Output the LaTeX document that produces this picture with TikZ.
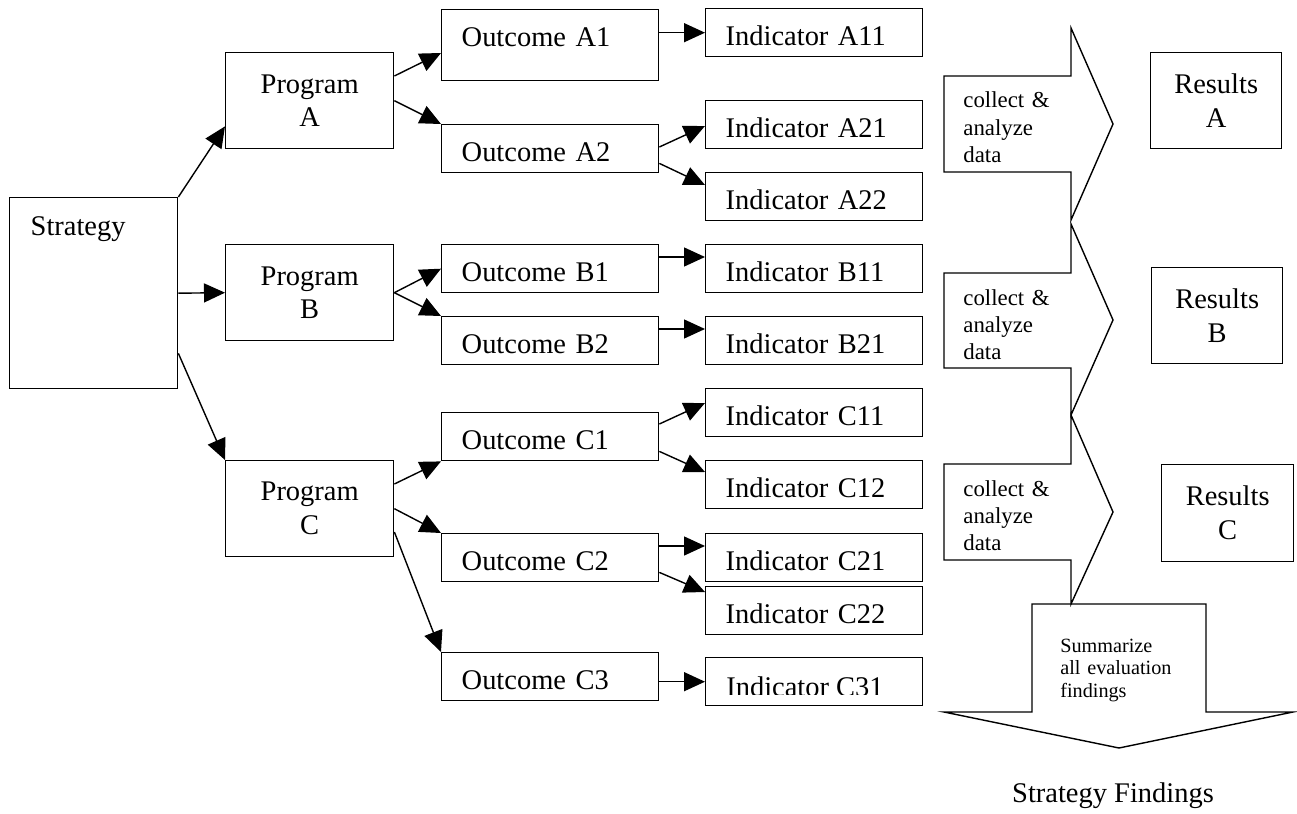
\documentclass[tikz,border=0pt]{standalone}
\usepackage{fontspec}
\setmainfont{Liberation Serif}
\usepackage{tikz}
\usetikzlibrary{arrows.meta, positioning, calc}
\newcommand{\boxfont}{\fontsize{16.2}{19.3}\selectfont}
\newcommand{\chevfont}{\fontsize{13}{15.6}\selectfont}
\newcommand{\sumfont}{\fontsize{11.5}{13}\selectfont}
\tikzstyle{outbox} = [draw, line width=0.8pt, anchor=north west, text width=3.54cm, align=left, inner xsep=0.4cm, inner ysep=0pt, text height=0.74cm, text depth=0.22cm, font=\boxfont]
\tikzstyle{progbox} = [draw, line width=0.8pt, anchor=north west, minimum width=3.36cm, minimum height=1.92cm, align=center, inner sep=0pt, font=\boxfont]
\tikzstyle{chev} = [line width=0.8pt, line join=miter]
\tikzstyle{chevtext} = [anchor=base west, text width=3cm, align=left, inner sep=0pt, font=\chevfont]
\tikzstyle{arrow} = [line width=0.8pt, -{Triangle[length=0.42cm, width=0.38cm]}]

\begin{document}
\begin{tikzpicture}[x=0.02cm, y=-0.02cm]
          \useasboundingbox (0,0) rectangle (1297,814);

          % strategy and programs
          \node[progbox, minimum height=3.82cm, text width=2.52cm, align=left, inner xsep=0.42cm, text height=0.76cm, text depth=3.06cm] (strategy) at (9,197) {Strategy};
          \node[progbox] (progA) at (225,52) {Program\\A};
          \node[progbox] (progB) at (225,244) {Program\\B};
          \node[progbox] (progC) at (225,460) {Program\\C};

          % outcomes
          \node[outbox, text depth=0.68cm] (oA1) at (441,9) {Outcome A1};
          \node[outbox] (oA2) at (441,124) {Outcome A2};
          \node[outbox] (oB1) at (441,244) {Outcome B1};
          \node[outbox] (oB2) at (441,316) {Outcome B2};
          \node[outbox] (oC1) at (441,412) {Outcome C1};
          \node[outbox] (oC2) at (441,533) {Outcome C2};
          \node[outbox] (oC3) at (441,652) {Outcome C3};

          % indicators
          \node[outbox] (iA11) at (705,8) {Indicator A11};
          \node[outbox] (iA21) at (705,100) {Indicator A21};
          \node[outbox] (iA22) at (705,172) {Indicator A22};
          \node[outbox] (iB11) at (705,244) {Indicator B11};
          \node[outbox] (iB21) at (705,316) {Indicator B21};
          \node[outbox] (iC11) at (705,388) {Indicator C11};
          \node[outbox] (iC12) at (705,460) {Indicator C12};
          \node[outbox] (iC21) at (705,533) {Indicator C21};
          \node[outbox] (iC22) at (705,586) {Indicator C22};
          \node[outbox] (iC31) at (705,657) {};
          \begin{scope}
              \clip (iC31.north west) rectangle ($(iC31.south east)+(0,-12)$);
              \node[anchor=base west, inner sep=0pt, font=\boxfont] (iC31-text) at ($(iC31.south west)+(21,-10)$) {Indicator C31};
          \end{scope}

          % results
          \node[progbox, minimum width=2.62cm] (resA) at (1150,52) {Results\\A};
          \node[progbox, minimum width=2.62cm] (resB) at (1151,267) {Results\\B};
          \node[progbox, minimum width=2.64cm, minimum height=1.94cm] (resC) at (1161,464) {Results\\C};

          % collect & analyze chevrons, summary arrow
          \draw[chev] (944,76) -- (1071,76) -- (1071,28) -- (1113,124) -- (1071,220) -- (1071,172) -- (944,172) -- cycle;
          \draw[chev] (944,273) -- (1071,273) -- (1071,224) -- (1113,320) -- (1071,415) -- (1071,368) -- (944,368) -- cycle;
          \draw[chev] (944,464) -- (1071,464) -- (1071,415) -- (1113,512) -- (1071,604) -- (1071,560) -- (944,560) -- cycle;
          \draw[chev] (1032,604) -- (1206,604) -- (1206,712) -- (1293,712) -- (1119,748) -- (944,712) -- (1032,712) -- cycle;

          \node[chevtext] (collectA) at (963,108) {collect \&\\analyze\\data};
          \begin{scope}
              \clip (944,273) rectangle (1071,360);
              \node[chevtext] (collectB) at (963,305) {collect \&\\analyze\\data};
          \end{scope}
          \node[chevtext] (collectC) at (963,496) {collect \&\\analyze\\data};
          \node[chevtext, font=\sumfont] (summary) at (1060,652) {Summarize\\all evaluation\\findings};
          \node[anchor=base, inner sep=0pt, font=\boxfont] (findings) at (1113,802) {Strategy Findings};

          % strategy -> programs
          \draw[arrow] (strategy.north east) -- ($(progA.south west)+(0,-23)$);
          \draw[arrow] (strategy.east) -- (progB.west);
          \draw[arrow] ($(strategy.south east)+(0,-36)$) -- (progC.north west);

          % programs -> outcomes
          \draw[arrow] ($(progA.north east)+(0,24)$) -- ($(oA1.north west)+(0,44)$);
          \draw[arrow] (progA.east) -- (oA2.north west);
          \draw[arrow] (progB.east) -- (oB1.west);
          \draw[arrow] (progB.east) -- (oB2.north west);
          \draw[arrow] ($(progC.north east)+(0,24)$) -- (oC1.south west);
          \draw[arrow] (progC.east) -- (oC2.north west);
          \draw[arrow] ($(progC.north east)+(0,72)$) -- (oC3.north west);

          % outcomes -> indicators
          \draw[arrow] (iA11.west -| oA1.east) -- (iA11.west);
          \draw[arrow] ($(oA2.north east)+(0,23)$) -- ($(iA21.north west)+(0,26)$);
          \draw[arrow] ($(oA2.south east)+(0,-10)$) -- ($(iA22.north west)+(0,13)$);
          \draw[arrow] ($(oB1.north east)+(0,13)$) -- ($(iB11.north west)+(0,13)$);
          \draw[arrow] ($(oB2.north east)+(0,13)$) -- ($(iB21.north west)+(0,13)$);
          \draw[arrow] ($(oC1.north east)+(0,12)$) -- ($(iC11.north west)+(0,15)$);
          \draw[arrow] ($(oC1.south east)+(0,-10)$) -- ($(iC12.north west)+(0,12)$);
          \draw[arrow] ($(oC2.north east)+(0,13)$) -- ($(iC21.north west)+(0,13)$);
          \draw[arrow] ($(oC2.south east)+(0,-10)$) -- ($(iC22.north west)+(0,6)$);
          \draw[arrow] (iC31.west -| oC3.east) -- (iC31.west);
      \end{tikzpicture}
\end{document}
